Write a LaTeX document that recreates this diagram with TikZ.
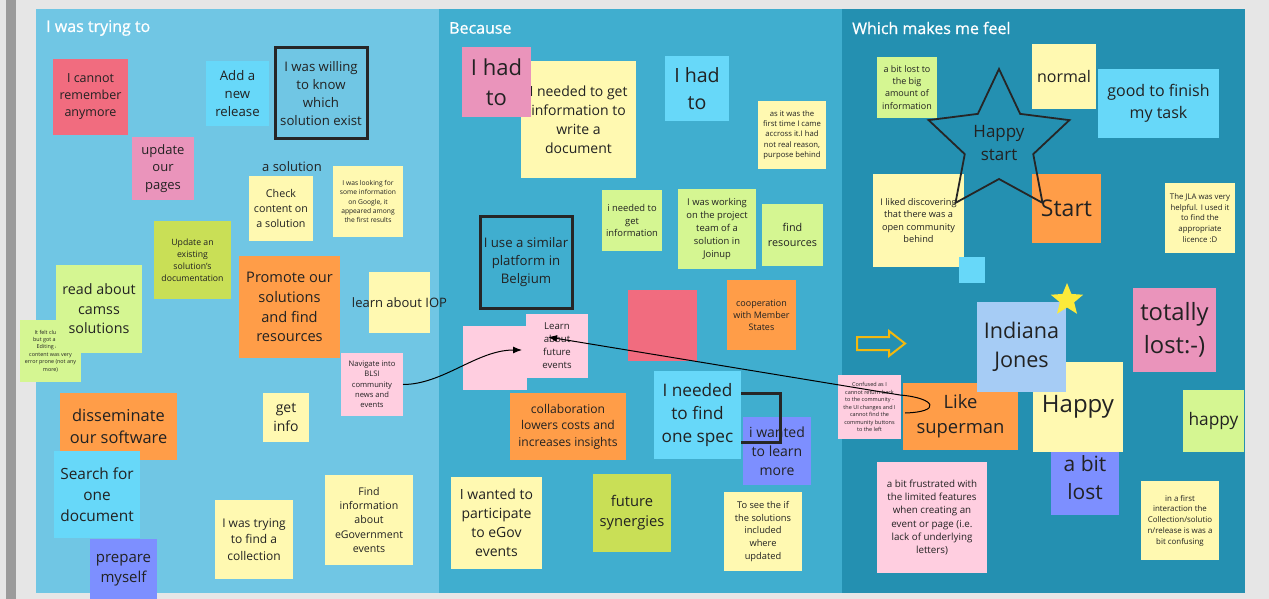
\documentclass[tikz,border=0pt]{standalone}
\usepackage{fontspec}
\setmainfont{Open Sans}
\newfontfamily\lanefont[FakeBold=0.7]{Open Sans}
\usetikzlibrary{arrows.meta}

\definecolor{frame}{HTML}{E6E6E6}
\definecolor{strip}{HTML}{9B9B9B}
\definecolor{laneA}{HTML}{70C6E4}
\definecolor{laneB}{HTML}{40AECF}
\definecolor{laneC}{HTML}{2490B1}
\definecolor{ink}{HTML}{222222}
\definecolor{cyellow}{HTML}{FFF9B1}
\definecolor{cred}{HTML}{F16C7F}
\definecolor{cpink}{HTML}{EA94BB}
\definecolor{clpink}{HTML}{FFCEE0}
\definecolor{ccyan}{HTML}{67D8F9}
\definecolor{clime}{HTML}{C9DF56}
\definecolor{clgreen}{HTML}{D5F692}
\definecolor{corange}{HTML}{FF9D48}
\definecolor{cviolet}{HTML}{7D8FFF}
\definecolor{clblue}{HTML}{A6CCF5}
\definecolor{cstar}{HTML}{FCEA3A}
\definecolor{cgold}{HTML}{F2B80E}

% font size with proportional leading
\newcommand\fsz[1]{\pgfmathsetmacro\fszlead{#1*1.36}\fontsize{#1}{\fszlead}\selectfont}

\begin{document}
\begin{tikzpicture}[x=1pt,y=-1pt,
  note/.style={anchor=north west, inner sep=1pt, outer sep=0pt, align=center, text=ink},
  framebox/.style={anchor=north west, inner sep=1pt, outer sep=0pt, align=center, text=ink,
    draw=black!85, line width=3pt, line join=miter},
  lanetitle/.style={anchor=west, inner sep=0pt, text=white, font=\lanefont\fsz{16}},
  conn/.style={draw=black, line width=1pt, -{Latex[length=9pt,width=7pt]}}]

\useasboundingbox (0,0) rectangle (1269,599);

% surrounding frame and lanes
\fill[frame] (0,0) rectangle (1269,599);
\fill[strip] (6,0) rectangle (16,599);
\fill[laneA] (36,9) rectangle (439,593);
\fill[laneB] (439,9) rectangle (842,593);
\fill[laneC] (842,9) rectangle (1245,593);

\node[lanetitle] (tA) at (46,28) {I was trying to};
\node[lanetitle] (tB) at (449,28) {Because};
\node[lanetitle] (tC) at (852,28) {Which makes me feel};

% ---------- lane 1 ----------
\node[note, fill=cred, minimum width=75, minimum height=76, font=\fsz{12.5}] (cannot) at (53,59) {I cannot\\remember\\anymore};
\node[note, fill=cpink, minimum width=62, minimum height=63, font=\fsz{13}] (update) at (132,137) {update\\our\\pages};
\node[note, fill=ccyan, minimum width=63, minimum height=65, font=\fsz{13.2}] (addrel) at (206,61) {Add a\\new\\release};
\node[framebox, minimum width=92, minimum height=91, font=\fsz{13.2}] (willing) at (275,48) {I was willing\\to know\\which\\solution exist};
\node[inner sep=0pt, text=ink, font=\fsz{13}] (asol) at (292,167) {a solution};
\node[note, fill=cyellow, minimum width=64, minimum height=65, font=\fsz{10.7}] (check) at (249,176) {Check\\content on\\a solution};
\node[note, fill=cyellow, minimum width=70, minimum height=71, font=\fsz{6.7}] (google) at (333,166) {I was looking for\\some information\\on Google, it\\appeared among\\the first results};
\node[note, fill=clime, minimum width=77, minimum height=78, font=\fsz{8.7}] (updexist) at (154,221) {Update an\\existing\\solution's\\documentation};
\node[note, fill=clgreen, minimum width=61, minimum height=62, font=\fsz{5.4}] (clunky) at (20,320) {It felt clunky,\\but got a LOT.\\Editing any\\content was very\\error prone (not any\\more)};
\node[note, fill=clgreen, minimum width=86, minimum height=88, font=\fsz{14.3}] (camss) at (56,265) {read about\\camss\\solutions};
\node[note, fill=corange, minimum width=101, minimum height=102, font=\fsz{14.6}] (promote) at (239,256) {Promote our\\solutions\\and find\\resources};
\node[note, fill=cyellow, minimum width=61, minimum height=61,
      label={[font=\fsz{13}, text=ink, inner sep=0pt]center:learn about IOP}] (iop) at (369,272) {};
\node[note, fill=clpink, minimum width=62, minimum height=63, font=\fsz{7.6}] (nav) at (341,353) {Navigate into\\BLSI\\community\\news and\\events};
\node[note, fill=corange, minimum width=117, minimum height=67, font=\fsz{16.4}] (dissem) at (60,393) {disseminate\\our software};
\node[note, fill=cyellow, minimum width=46, minimum height=49, font=\fsz{14}] (getinfo) at (263,393) {get\\info};
\node[note, fill=ccyan, minimum width=86, minimum height=87, font=\fsz{15.4}] (search) at (54,451) {Search for\\one\\document};
\node[note, fill=cviolet, minimum width=67, minimum height=62, font=\fsz{15}] (prepare) at (90,539) {prepare\\myself};
\node[note, fill=cyellow, minimum width=78, minimum height=79, font=\fsz{12}] (trycoll) at (215,500) {I was trying\\to find a\\collection};
\node[note, fill=cyellow, minimum width=88, minimum height=90, font=\fsz{10.6}] (findinfo) at (325,475) {Find\\information\\about\\eGovernment\\events};

% ---------- lane 2 ----------
\node[note, fill=cyellow, minimum width=115, minimum height=117, font=\fsz{14}] (needed) at (521,61) {I needed to get\\information to\\write a\\document};
\node[note, fill=cpink, minimum width=69, minimum height=70, font=\fsz{22}] (ihadA) at (462,47) {I had\\to};
\node[note, fill=ccyan, minimum width=64, minimum height=65, font=\fsz{19.6}] (ihadB) at (665,56) {I had\\to};
\node[note, fill=cyellow, minimum width=68, minimum height=68, font=\fsz{7.7}] (firsttime) at (758,101) {as it was the\\first time I came\\accross it.I had\\not real reason,\\purpose behind};
\node[note, fill=clgreen, minimum width=60, minimum height=61, font=\fsz{9.4}] (ineed) at (602,190) {i needed to\\get\\information};
\node[note, fill=clgreen, minimum width=78, minimum height=80, font=\fsz{9.4}] (working) at (678,189) {I was working\\on the project\\team of a\\solution in\\Joinup};
\node[note, fill=clgreen, minimum width=61, minimum height=62, font=\fsz{10.8}] (findres) at (762,204) {find\\resources};
\node[framebox, minimum width=92, minimum height=92, font=\fsz{13.2}] (similar) at (480,216) {I use a similar\\platform in\\Belgium};
\node[note, fill=cred, minimum width=69, minimum height=71] (redblank) at (628,290) {};
\node[note, fill=corange, minimum width=69, minimum height=70, font=\fsz{9}] (coop) at (727,280) {cooperation\\with Member\\States};
\node[note, fill=clpink, minimum width=64, minimum height=64] (pinkblank) at (463,326) {};
\node[note, fill=clpink, minimum width=62, minimum height=64, font=\fsz{9.6}] (learn) at (526,314) {Learn\\about\\future\\events};
\node[note, fill=corange, minimum width=116, minimum height=67, font=\fsz{12.1}] (collab) at (510,393) {collaboration\\lowers costs and\\increases insights};
\node[note, fill=cviolet, minimum width=68, minimum height=68, font=\fsz{14}] (wanted) at (743,417) {i wanted\\to learn\\more};
\node[framebox, minimum width=80, minimum height=49] (specframe) at (700,393) {};
\node[note, fill=ccyan, minimum width=87, minimum height=88, font=\fsz{17.2}] (spec) at (654,371) {I needed\\to find\\one spec};
\node[note, fill=cyellow, minimum width=91, minimum height=92, font=\fsz{14}] (egov) at (451,477) {I wanted to\\participate\\to eGov\\events};
\node[note, fill=clime, minimum width=78, minimum height=78, font=\fsz{14.7}] (synergy) at (593,474) {future\\synergies};
\node[note, fill=cyellow, minimum width=78, minimum height=79, font=\fsz{9.3}] (toseeif) at (724,492) {To see the if\\the solutions\\included\\where\\updated};

% ---------- lane 3 ----------
\node[note, fill=clgreen, minimum width=60, minimum height=61, font=\fsz{9}] (bitlostbig) at (877,57) {a bit lost to\\the big\\amount of\\information};
\node[note, fill=cyellow, minimum width=64, minimum height=65, font=\fsz{16}] (normal) at (1032,44) {normal};
\node[note, fill=ccyan, minimum width=121, minimum height=69, font=\fsz{16}] (goodfin) at (1098,69) {good to finish\\my task};
\node[note, fill=cyellow, minimum width=91, minimum height=93, font=\fsz{9.2}] (iliked) at (873,174) {I liked discovering\\that there was a\\open community\\behind};
\node[note, fill=corange, minimum width=69, minimum height=69, font=\fsz{23}] (start) at (1032,174) {Start};
\node[note, fill=cyellow, minimum width=70, minimum height=70, font=\fsz{7.8}] (jla) at (1165,183) {The JLA was very\\helpful. I used it\\to find the\\appropriate\\licence :D};
\node[note, fill=ccyan, minimum width=26, minimum height=26] (sq) at (959,257) {};
\node[note, fill=cpink, minimum width=83, minimum height=84, font=\fsz{23.8}] (totally) at (1133,288) {totally\\lost:-)};
\node[note, fill=clpink, minimum width=63, minimum height=64, font=\fsz{5.5}] (confused) at (838,375) {Confused as I\\cannot return back\\to the community -\\the UI changes and I\\cannot find the\\community buttons\\to the left};
\node[note, fill=corange, minimum width=115, minimum height=67, font=\fsz{18.4}] (like) at (903,383) {Like\\superman};
\node[note, fill=cviolet, minimum width=68, minimum height=75, font=\fsz{21}] (bitlost) at (1051,440) {a bit\\lost};
\node[note, fill=cyellow, minimum width=90, minimum height=90, font=\fsz{24}] (happy) at (1033,362) {Happy};
\node[note, fill=clblue, minimum width=89, minimum height=90, font=\fsz{21.6}] (indiana) at (977,302) {Indiana\\Jones};
\node[note, fill=clgreen, minimum width=61, minimum height=62, font=\fsz{17.3}] (happyB) at (1183,390) {happy};
\node[note, fill=clpink, minimum width=110, minimum height=111, font=\fsz{9.8}] (frustr) at (877,462) {a bit frustrated with\\the limited features\\when creating an\\event or page (i.e.\\lack of underlying\\letters)};
\node[note, fill=cyellow, minimum width=78, minimum height=79, font=\fsz{7.9}] (firstint) at (1141,481) {in a first\\interaction the\\Collection/solutio\\n/release is was a\\bit confusing};

% small filled star on the corner of the Indiana Jones note
\begin{scope}[shift={(1067,300)}]
  \fill[cstar] (-90:17) -- (-54:7.5) -- (-18:17) -- (18:7.5) -- (54:17) -- (90:7.5)
    -- (126:17) -- (162:7.5) -- (198:17) -- (234:7.5) -- cycle;
\end{scope}

% outlined star with its caption
\begin{scope}[shift={(999,143)}]
  \draw[black!85, line width=1.8pt, line join=miter] (-90:74) -- (-54:36) -- (-18:74) -- (18:36)
    -- (54:74) -- (90:36) -- (126:74) -- (162:36) -- (198:74) -- (234:36) -- cycle;
\end{scope}
\node[inner sep=0pt, align=center, text=ink, font=\fsz{17}] (happystart) at (999,143) {Happy\\start};

% outlined block arrow
\draw[cgold, line width=2pt, line join=miter] (857,337) -- (889,337) -- (889,331) -- (905,343.5)
  -- (889,356) -- (889,350) -- (857,350) -- cycle;

% ---------- connectors ----------
\coordinate (cf-tail) at (905,413);
\coordinate (cf-bend) at (900,395);
\coordinate (learn-tip) at (548,337);
\draw[conn] (nav.east) .. controls +(40,0) and +(-45,0) .. ([shift={(-4,4)}]learn.west);
\draw[conn] (cf-tail) .. controls (942,412) and (936,398) .. (cf-bend) -- (learn-tip);

\end{tikzpicture}
\end{document}
